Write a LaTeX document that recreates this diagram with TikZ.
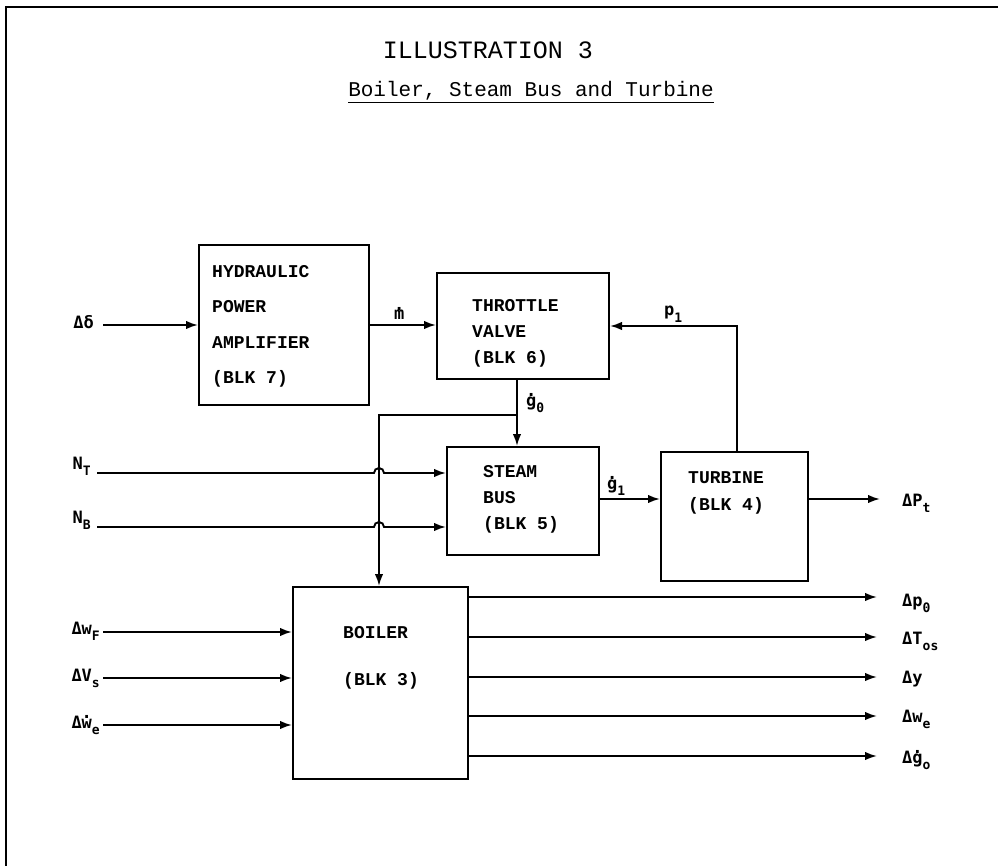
\documentclass[tikz,border=0pt]{standalone}
\usepackage{fontspec}
\usetikzlibrary{arrows.meta}
\newfontfamily\typew{Liberation Mono}
\newfontfamily\labfont{DejaVu Sans Mono}
\newcommand\dt[1]{\leavevmode\ooalign{#1\cr\hidewidth\raisebox{.58em}{.}\hidewidth\cr}}
\newcommand\sbs[1]{\raisebox{-.38em}{\fontsize{13}{13}\selectfont #1}}
\begin{document}
\begin{tikzpicture}[x=1pt,y=-1pt,
  blk/.style={draw, line width=2pt, inner sep=0pt, anchor=north west},
  blktext/.style={inner sep=0pt, anchor=north west, align=left, font=\typew\bfseries\fontsize{18}{#1}\selectfont},
  lab/.style={inner sep=0pt, font=\labfont\bfseries\fontsize{17}{17}\selectfont},
  arr/.style={line width=1.9pt, -{Latex[length=12pt,width=8.5pt]}},
  ln/.style={line width=1.9pt}
]
\useasboundingbox (0,0) rectangle (998,866);
% frame
\draw[line width=2.2pt] (6,866) -- (6,7) -- (998,7);
% titles
\node[inner sep=0pt, anchor=base, font=\typew\fontsize{25}{25}\selectfont] (title) at (488,59) {ILLUSTRATION 3};
\node[inner sep=0pt, anchor=base, font=\typew\fontsize{21}{21}\selectfont] (subtitle) at (531,97) {\underline{Boiler, Steam Bus and Turbine}};
% blocks
\node[blk, minimum width=170pt, minimum height=160pt] (hpa) at (198,244) {};
\node[blk, minimum width=172pt, minimum height=106pt] (thr) at (436,272) {};
\node[blk, minimum width=152pt, minimum height=108pt] (sb) at (446,446) {};
\node[blk, minimum width=147pt, minimum height=129pt] (turb) at (660,451) {};
\node[blk, minimum width=175pt, minimum height=192pt] (boil) at (292,586) {};
% block texts
\node[blktext=35.5] (hpatxt) at (212,265) {HYDRAULIC\\POWER\\AMPLIFIER\\(BLK 7)};
\node[blktext=26] (thrtxt) at (472,299) {THROTTLE\\VALVE\\(BLK 6)};
\node[blktext=26] (sbtxt) at (483,465) {STEAM\\BUS\\(BLK 5)};
\node[blktext=27] (turbtxt) at (688,471) {TURBINE\\(BLK 4)};
\node[blktext=47] (boiltxt) at (343,626) {BOILER\\(BLK 3)};
% coordinates
\coordinate (sdd) at (103,325);
\coordinate (snt) at (97,473);
\coordinate (snb) at (97,527);
\coordinate (swf) at (103,632);
\coordinate (svs) at (103,678);
\coordinate (swe) at (103,725);
\coordinate (j) at (517,415);
\coordinate (k) at (379,415);
\coordinate (tp) at (737,326);
\coordinate (opt) at (880,499);
\coordinate (o1) at (877,597);
\coordinate (o2) at (877,637);
\coordinate (o3) at (877,677);
\coordinate (o4) at (877,716);
\coordinate (o5) at (877,756);
% input labels
\node[lab, anchor=base east] (ldd) at (94,329) {Δδ};
\node[lab, anchor=base east] (lnt) at (91,469) {N\sbs{T}};
\node[lab, anchor=base east] (lnb) at (91,523) {N\sbs{B}};
\node[lab, anchor=base east] (lwf) at (100,634) {Δw\sbs{F}};
\node[lab, anchor=base east] (lvs) at (100,681) {ΔV\sbs{s}};
\node[lab, anchor=base east] (lwe) at (100,728) {Δ\dt{w}\sbs{e}};
% internal labels
\node[lab, anchor=base west] (lm) at (394,320) {\dt{m}};
\node[lab, anchor=base west] (lp1) at (664,316) {p\sbs{1}};
\node[lab, anchor=base west] (lg0) at (526,406) {\dt{g}\sbs{0}};
\node[lab, anchor=base west] (lg1) at (607,489) {\dt{g}\sbs{1}};
% output labels
\node[lab, anchor=base west] (lpt) at (902,506) {ΔP\sbs{t}};
\node[lab, anchor=base west] (lp0) at (902,606) {Δp\sbs{0}};
\node[lab, anchor=base west] (lto) at (902,644) {ΔT\sbs{os}};
\node[lab, anchor=base west] (ly) at (902,683) {Δy};
\node[lab, anchor=base west] (lwo) at (902,722) {Δw\sbs{e}};
\node[lab, anchor=base west] (lgo) at (902,763) {Δ\dt{g}\sbs{o}};
% connectors
\draw[arr] (sdd) -- (sdd -| hpa.west);
\draw[arr] (hpa.east |- sdd) -- (sdd -| thr.west);
\draw[arr] (tp |- turb.north) -- (tp) -- (tp -| thr.east);
\draw[arr] (j |- thr.south) -- (j |- sb.north);
\draw[arr] (j) -- (k) -- (k |- boil.north);
\draw[arr] (snt) -- ([xshift=-5pt]k |- snt) arc[start angle=180, end angle=0, radius=5pt] -- (snt -| sb.west);
\draw[arr] (snb) -- ([xshift=-5pt]k |- snb) arc[start angle=180, end angle=0, radius=5pt] -- (snb -| sb.west);
\draw[arr] (sb.east |- opt) -- (opt -| turb.west);
\draw[arr] (turb.east |- opt) -- (opt);
\draw[arr] (swf) -- (swf -| boil.west);
\draw[arr] (svs) -- (svs -| boil.west);
\draw[arr] (swe) -- (swe -| boil.west);
\draw[arr] (boil.east |- o1) -- (o1);
\draw[arr] (boil.east |- o2) -- (o2);
\draw[arr] (boil.east |- o3) -- (o3);
\draw[arr] (boil.east |- o4) -- (o4);
\draw[arr] (boil.east |- o5) -- (o5);
\end{tikzpicture}
\end{document}
